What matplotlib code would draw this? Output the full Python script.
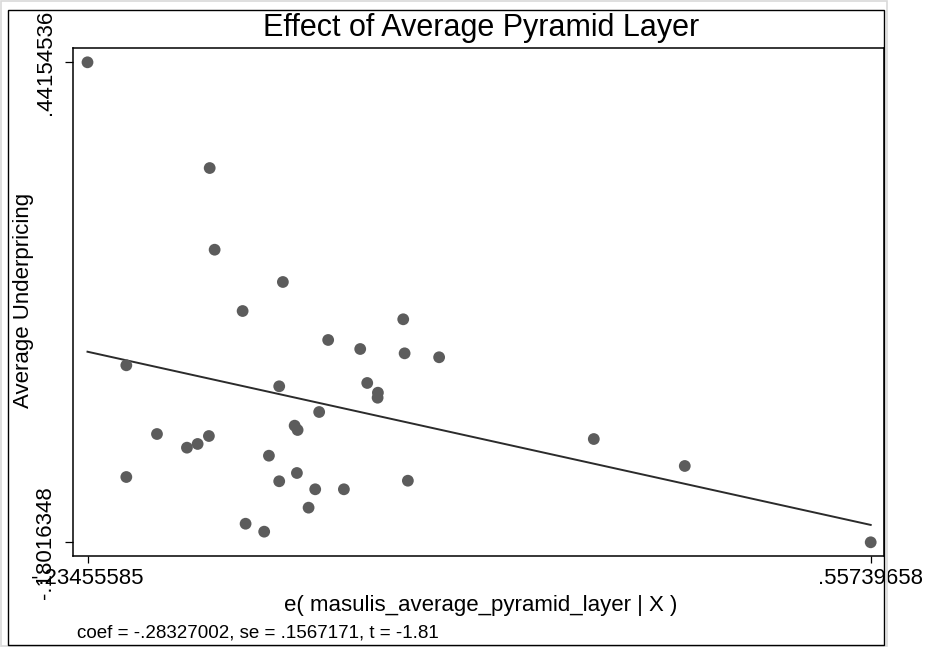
import matplotlib
matplotlib.use("Agg")
import matplotlib.pyplot as plt
from matplotlib.patches import Rectangle
import numpy as np

plt.rcParams['font.family'] = ['Liberation Sans', 'DejaVu Sans']

# residuals from the added-variable plot
e_pyramid = [-0.23456, -0.1110, -0.1060, -0.0370, -0.0777, 0.0847, 0.0088, 0.0412,
             0.0861, 0.1210, -0.1953, -0.0407, 0.0483, 0.0591, 0.0588, -0.0003,
             -0.0251, -0.0221, -0.1643, -0.1118, -0.1232, -0.1340, -0.0511, -0.0228,
             -0.1953, -0.0407, 0.0894, -0.0043, 0.0247, -0.0110, -0.0747, -0.0559,
             0.2774, 0.3694, 0.55740]
e_underpricing = [0.44155, 0.3046, 0.1988, 0.1570, 0.1194, 0.1087, 0.0819, 0.0702,
                  0.0646, 0.0595, 0.0491, 0.0219, 0.0262, 0.0136, 0.0071, -0.0114,
                  -0.0291, -0.0347, -0.0399, -0.0425, -0.0528, -0.0576, -0.0680, -0.0904,
                  -0.0956, -0.1011, -0.1004, -0.1115, -0.1115, -0.1353, -0.1561, -0.1664,
                  -0.0464, -0.0813, -0.18016]

coef = -0.28327002
se = 0.1567171
t_stat = -1.81

x_ticks = [-0.23455585, 0.55739658]
x_ticklabels = ['-.23455585', '.55739658']
y_ticks = [-0.18016348, 0.44154536]
y_ticklabels = ['-.18016348', '.44154536']

x = np.array(e_pyramid)
y = np.array(e_underpricing)
intercept = y.mean() - coef * x.mean()

W, H = 930, 647
fig = plt.figure(figsize=(W / 100, H / 100), dpi=100)

# outer frames
fig.patches.append(Rectangle((1 / W, 1 - 646 / H), 886 / W, 645 / H, transform=fig.transFigure,
                             fill=False, edgecolor='#d9d9d9', lw=1.2))
fig.patches.append(Rectangle((8 / W, 1 - 645 / H), 876 / W, 635 / H, transform=fig.transFigure,
                             fill=False, edgecolor='black', lw=1.0))

ax = fig.add_axes([73 / W, 1 - 556 / H, 811 / W, 508 / H])
ax.scatter(x, y, s=72, color='#5c5c5c', edgecolors='none', zorder=3)
xs = np.array([x.min(), x.max()])
ax.plot(xs, intercept + coef * xs, color='#2b2b2b', lw=1.4, zorder=2)

ax.set_xlim(-0.24922, 0.57085)
ax.set_ylim(-0.19791, 0.46007)
ax.set_xticks(x_ticks)
ax.set_xticklabels(x_ticklabels, fontsize=16)
ax.set_yticks(y_ticks)
ax.set_yticklabels(y_ticklabels, fontsize=16, rotation=90, va='center')
ax.tick_params(axis='x', length=5, width=0.9, pad=3.5)
ax.tick_params(axis='y', length=5.5, width=0.9, pad=6.5)
for sp in ax.spines.values():
    sp.set_linewidth(1.1)

fig.text(481 / W, 1 - 28 / H, 'Effect of Average Pyramid Layer', fontsize=22,
         ha='center', va='center')
fig.text(481 / W, 1 - 605 / H, 'e( masulis_average_pyramid_layer | X )', fontsize=16,
         ha='center', va='center')
fig.text(23 / W, 1 - 300 / H, 'Average Underpricing', fontsize=16, rotation=90,
         ha='center', va='center')
fig.text(77 / W, 1 - 633 / H, f'coef = {coef:.8f}, se = {se:.7f}, t = {t_stat:.2f}'.replace('0.', '.'),
         fontsize=13.5, ha='left', va='center')

fig.savefig('out.png', dpi=100)
